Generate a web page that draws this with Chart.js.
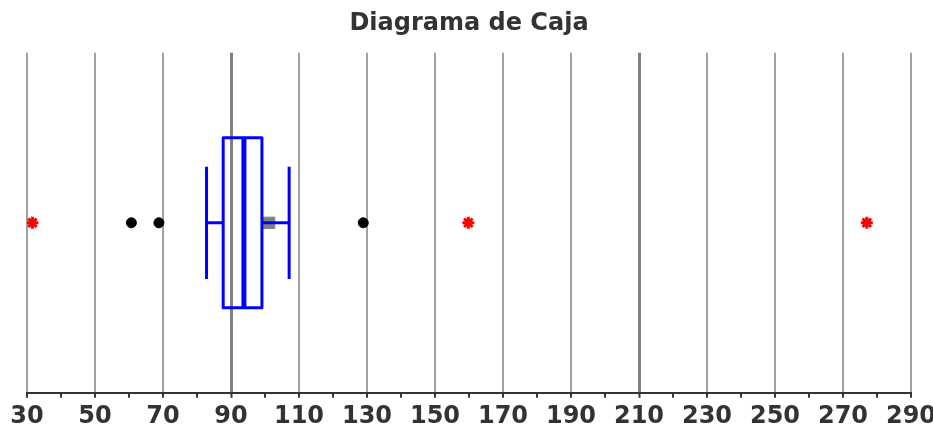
<!DOCTYPE html>
<html>
<head>
<meta charset="utf-8">
<title>Diagrama de Caja</title>
<script src="https://cdn.jsdelivr.net/npm/chart.js@4.4.1/dist/chart.umd.min.js"></script>
<style>
  body { margin: 0; background: #fff; }
  canvas { display: block; }
</style>
</head>
<body>
<canvas id="boxChart" width="933" height="429"></canvas>
<script>
'use strict'
//////////////////
// Data
//////////////////
const chartTitle = 'Diagrama de Caja';
// box stats: low whisker, Q1, median, Q3, high whisker
const boxStats = [82.8, 87.7, 93.8, 99.1, 107.1];
const meanValue = [101.2];
const mildOutliers = [60.7, 68.8, 128.9];
const extremeOutliers = [31.6, 159.8, 277];
const tickLabels = [30, 50, 70, 90, 110, 130, 150, 170, 190, 210, 230, 250, 270, 290];
const darkGridLines = [90, 210];

const blue = '#0000ff';
const rowY = 1;      // the single row the box sits on
const boxHalf = 0.5;
const capHalf = 0.33;

/////////////////
// Helpers
/////////////////
function segment(points, width){
  return {
    data: points,
    showLine: true,
    borderColor: blue,
    borderWidth: width,
    borderJoinStyle: 'round',
    pointRadius: 0,
    fill: false
  };
}

function buildDatasets(){
  const [lowW, q1, med, q3, highW] = boxStats;
  return [
    segment([{x: q1, y: rowY}, {x: lowW, y: rowY}], 3),
    segment([{x: lowW, y: rowY - capHalf}, {x: lowW, y: rowY + capHalf}], 3),
    segment([{x: q3, y: rowY}, {x: highW, y: rowY}], 3),
    segment([{x: highW, y: rowY - capHalf}, {x: highW, y: rowY + capHalf}], 3),
    segment([
      {x: q1, y: rowY - boxHalf}, {x: q3, y: rowY - boxHalf},
      {x: q3, y: rowY + boxHalf}, {x: q1, y: rowY + boxHalf},
      {x: q1, y: rowY - boxHalf}
    ], 3),
    segment([{x: med, y: rowY - boxHalf}, {x: med, y: rowY + boxHalf}], 5),
    {
      data: meanValue.map(v => ({x: v, y: rowY})),
      pointStyle: 'rect',
      pointRadius: 8,
      backgroundColor: '#808080',
      borderColor: '#808080',
      borderWidth: 1
    },
    {
      data: mildOutliers.map(v => ({x: v, y: rowY})),
      pointStyle: 'circle',
      pointRadius: 5,
      backgroundColor: '#000',
      borderColor: '#000',
      borderWidth: 1
    },
    {
      data: extremeOutliers.map(v => ({x: v, y: rowY})),
      pointStyle: 'star',
      pointRadius: 6,
      backgroundColor: '#ff0000',
      borderColor: '#ff0000',
      borderWidth: 3
    }
  ];
}

function isLabelTick(v){
  return tickLabels.includes(v);
}

function renderChart(){
  const config = {
    type: 'scatter',
    data: { datasets: buildDatasets() },
    options: {
      responsive: false,
      animation: false,
      layout: { padding: { left: 27, right: 22, top: 0, bottom: -6 } },
      plugins: {
        legend: { display: false },
        tooltip: { enabled: false },
        title: {
          display: true,
          text: chartTitle,
          color: '#333',
          font: { family: 'DejaVu Sans', size: 24, weight: 'bold' },
          padding: { top: 9, bottom: 15 }
        }
      },
      scales: {
        x: {
          type: 'linear',
          min: 30,
          max: 290,
          afterFit: (scale) => { scale.paddingLeft = 0; scale.paddingRight = 0; },
          ticks: {
            stepSize: 10,
            autoSkip: false,
            maxRotation: 0,
            padding: 9,
            color: '#333',
            font: { family: 'DejaVu Sans', size: 24, weight: 'bold', lineHeight: 0.8 },
            callback: (v) => isLabelTick(v) ? String(v) : ''
          },
          grid: {
            color: (ctx) => {
              const v = ctx.tick && ctx.tick.value;
              if (!isLabelTick(v)) return 'rgba(0,0,0,0)';
              return darkGridLines.includes(v) ? '#808080' : '#a0a0a0';
            },
            lineWidth: (ctx) => {
              const v = ctx.tick && ctx.tick.value;
              if (!isLabelTick(v)) return 0;
              return darkGridLines.includes(v) ? 3 : 2;
            },
            tickColor: '#333',
            tickWidth: 2,
            tickLength: 5
          },
          border: { display: true, color: '#333', width: 2 }
        },
        y: {
          type: 'linear',
          min: 0,
          max: 2,
          display: false
        }
      }
    }
  };
  const canvasChart = document.getElementById('boxChart');
  const boxChart = new Chart(canvasChart, config);
}

renderChart();
</script>
</body>
</html>
